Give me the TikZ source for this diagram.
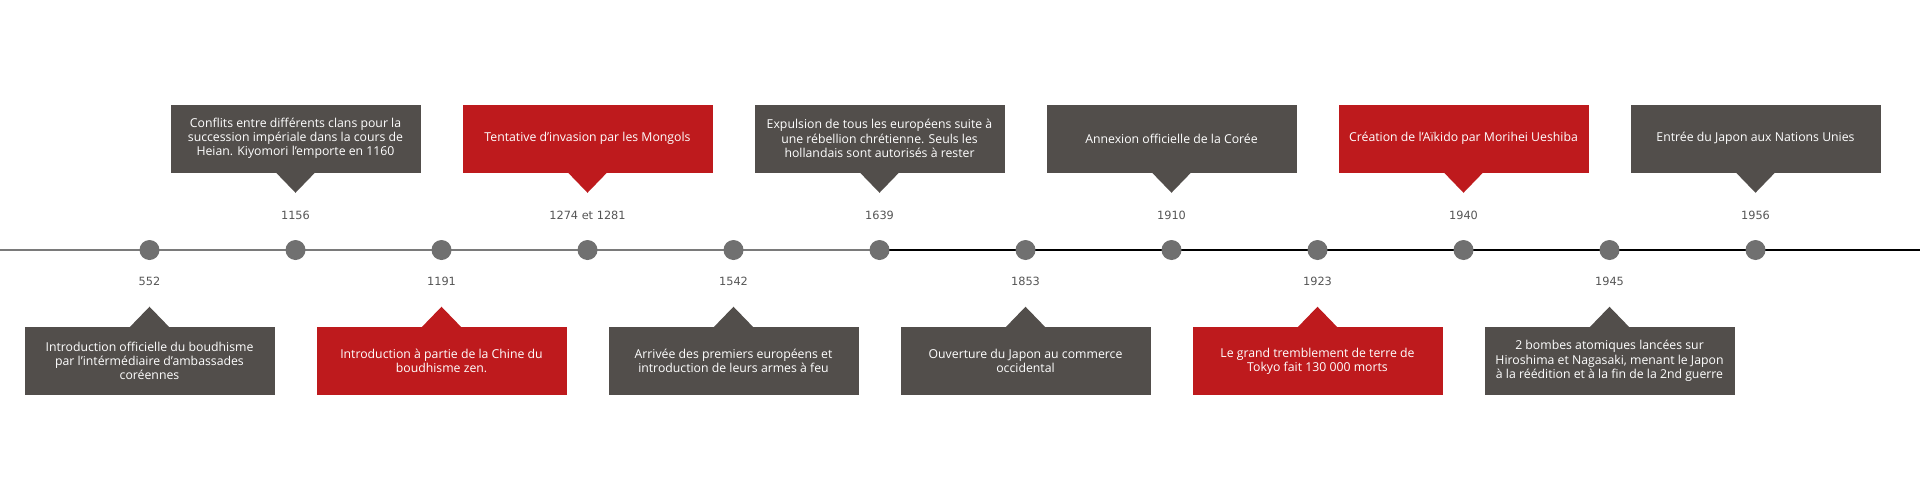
\documentclass[tikz,border=0pt]{standalone}
\usepackage{fontspec}
\setmainfont{Open Sans}
\newfontfamily\yearfont{DejaVu Sans}
\definecolor{boxG}{HTML}{524E4B}
\definecolor{boxR}{HTML}{BE1A1D}
\definecolor{dotG}{HTML}{707070}
\definecolor{lineG}{HTML}{7A7A7A}
\definecolor{yearG}{HTML}{555555}
\begin{document}
\begin{tikzpicture}[x=0.75pt,y=-0.75pt,event/.style={shape=rectangle,fill=boxG,text=white,minimum width=187.5pt,minimum height=51pt,inner sep=0pt,align=center,font=\fontsize{9.2}{10.7}\selectfont},eventR/.style={event,fill=boxR},date/.style={dotG,shape=circle,fill=dotG,minimum size=15pt,inner sep=0pt},year/.style={text=yearG,font=\yearfont\fontsize{8.5}{10}\selectfont}]
\def\dx{146};
\def\xa{149.5};
\def\yl{250};
\def\yu{138.5};
\def\yd{361};
\def\yyu{215};
\def\yyd{281};

\useasboundingbox (0,0) rectangle (1920,500);

%TIMELINE
\coordinate (L0) at (0,\yl);
\coordinate (LM) at (\xa+5*\dx,\yl);
\coordinate (L1) at (1920,\yl);
\draw[lineG,line width=1.5pt] (L0) -- (LM);
\draw[black,line width=0.8pt] (LM) -- (L1);

%552
\node[date] (D0) at (\xa,\yl) {};
\node[year] (Y0) at (\xa,\yyd) {552};
\node[event] (E0) at (\xa,\yd) {Introduction officielle du boudhisme\\par l’intérmédiaire d’ambassades\\coréennes};
\fill[boxG] ([xshift=-15pt,yshift=-0.5pt]E0.north) -- ([xshift=15pt,yshift=-0.5pt]E0.north) -- ([yshift=15pt]E0.north) -- cycle;

%1156
\node[date] (D1) at (\xa+\dx,\yl) {};
\node[year] (Y1) at (\xa+\dx,\yyu) {1156};
\node[event] (E1) at (\xa+\dx,\yu) {Conflits entre différents clans pour la\\succession impériale dans la cours de\\Heian. Kiyomori l’emporte en 1160};
\fill[boxG] ([xshift=-15pt,yshift=0.5pt]E1.south) -- ([xshift=15pt,yshift=0.5pt]E1.south) -- ([yshift=-15pt]E1.south) -- cycle;

%1191
\node[date] (D2) at (\xa+2*\dx,\yl) {};
\node[year] (Y2) at (\xa+2*\dx,\yyd) {1191};
\node[eventR] (E2) at (\xa+2*\dx,\yd) {Introduction à partie de la Chine du\\boudhisme zen.};
\fill[boxR] ([xshift=-15pt,yshift=-0.5pt]E2.north) -- ([xshift=15pt,yshift=-0.5pt]E2.north) -- ([yshift=15pt]E2.north) -- cycle;

%1274
\node[date] (D3) at (\xa+3*\dx,\yl) {};
\node[year] (Y3) at (\xa+3*\dx,\yyu) {1274 et 1281};
\node[eventR] (E3) at (\xa+3*\dx,\yu) {Tentative d’invasion par les Mongols};
\fill[boxR] ([xshift=-15pt,yshift=0.5pt]E3.south) -- ([xshift=15pt,yshift=0.5pt]E3.south) -- ([yshift=-15pt]E3.south) -- cycle;

%1542
\node[date] (D4) at (\xa+4*\dx,\yl) {};
\node[year] (Y4) at (\xa+4*\dx,\yyd) {1542};
\node[event] (E4) at (\xa+4*\dx,\yd) {Arrivée des premiers européens et\\introduction de leurs armes à feu};
\fill[boxG] ([xshift=-15pt,yshift=-0.5pt]E4.north) -- ([xshift=15pt,yshift=-0.5pt]E4.north) -- ([yshift=15pt]E4.north) -- cycle;

%1639
\node[date] (D5) at (\xa+5*\dx,\yl) {};
\node[year] (Y5) at (\xa+5*\dx,\yyu) {1639};
\node[event] (E5) at (\xa+5*\dx,\yu) {Expulsion de tous les européens suite à\\une rébellion chrétienne. Seuls les\\hollandais sont autorisés à rester};
\fill[boxG] ([xshift=-15pt,yshift=0.5pt]E5.south) -- ([xshift=15pt,yshift=0.5pt]E5.south) -- ([yshift=-15pt]E5.south) -- cycle;

%1853
\node[date] (D6) at (\xa+6*\dx,\yl) {};
\node[year] (Y6) at (\xa+6*\dx,\yyd) {1853};
\node[event] (E6) at (\xa+6*\dx,\yd) {Ouverture du Japon au commerce\\occidental};
\fill[boxG] ([xshift=-15pt,yshift=-0.5pt]E6.north) -- ([xshift=15pt,yshift=-0.5pt]E6.north) -- ([yshift=15pt]E6.north) -- cycle;

%1910
\node[date] (D7) at (\xa+7*\dx,\yl) {};
\node[year] (Y7) at (\xa+7*\dx,\yyu) {1910};
\node[event] (E7) at (\xa+7*\dx,\yu) {Annexion officielle de la Corée};
\fill[boxG] ([xshift=-15pt,yshift=0.5pt]E7.south) -- ([xshift=15pt,yshift=0.5pt]E7.south) -- ([yshift=-15pt]E7.south) -- cycle;

%1923
\node[date] (D8) at (\xa+8*\dx,\yl) {};
\node[year] (Y8) at (\xa+8*\dx,\yyd) {1923};
\node[eventR] (E8) at (\xa+8*\dx,\yd) {Le grand tremblement de terre de\\Tokyo fait 130 000 morts};
\fill[boxR] ([xshift=-15pt,yshift=-0.5pt]E8.north) -- ([xshift=15pt,yshift=-0.5pt]E8.north) -- ([yshift=15pt]E8.north) -- cycle;

%1940
\node[date] (D9) at (\xa+9*\dx,\yl) {};
\node[year] (Y9) at (\xa+9*\dx,\yyu) {1940};
\node[eventR] (E9) at (\xa+9*\dx,\yu) {Création de l’Aïkido par Morihei Ueshiba};
\fill[boxR] ([xshift=-15pt,yshift=0.5pt]E9.south) -- ([xshift=15pt,yshift=0.5pt]E9.south) -- ([yshift=-15pt]E9.south) -- cycle;

%1945
\node[date] (D10) at (\xa+10*\dx,\yl) {};
\node[year] (Y10) at (\xa+10*\dx,\yyd) {1945};
\node[event] (E10) at (\xa+10*\dx,\yd) {2 bombes atomiques lancées sur\\Hiroshima et Nagasaki, menant le Japon\\à la réédition et à la fin de la 2nd guerre};
\fill[boxG] ([xshift=-15pt,yshift=-0.5pt]E10.north) -- ([xshift=15pt,yshift=-0.5pt]E10.north) -- ([yshift=15pt]E10.north) -- cycle;

%1956
\node[date] (D11) at (\xa+11*\dx,\yl) {};
\node[year] (Y11) at (\xa+11*\dx,\yyu) {1956};
\node[event] (E11) at (\xa+11*\dx,\yu) {Entrée du Japon aux Nations Unies};
\fill[boxG] ([xshift=-15pt,yshift=0.5pt]E11.south) -- ([xshift=15pt,yshift=0.5pt]E11.south) -- ([yshift=-15pt]E11.south) -- cycle;
\end{tikzpicture}
\end{document}
